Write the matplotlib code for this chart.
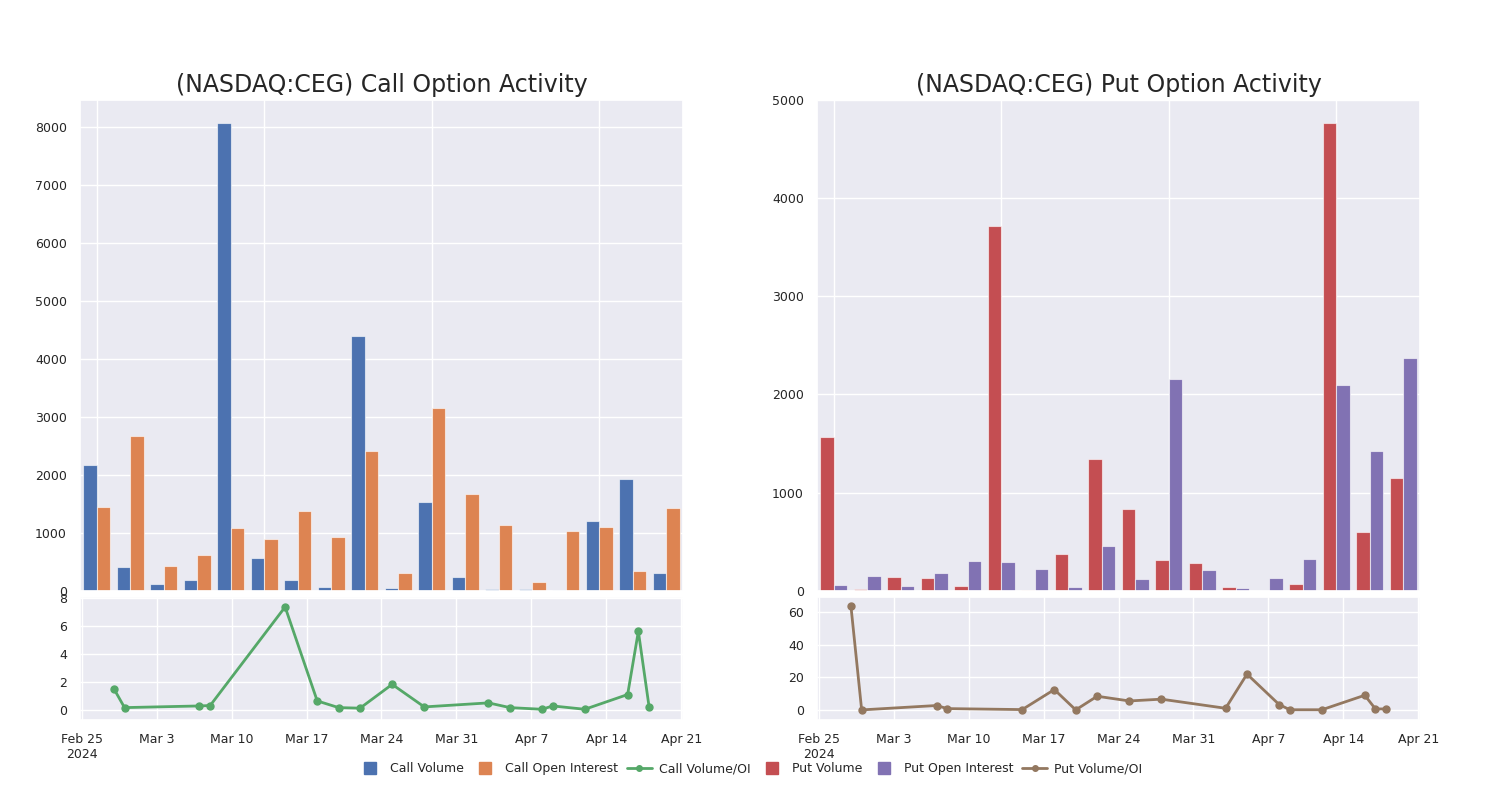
import matplotlib
matplotlib.use("Agg")
import matplotlib.pyplot as plt
import matplotlib.ticker as mticker
import seaborn as sns
import numpy as np
import pandas as pd
from matplotlib.lines import Line2D

# trading days shown in the chart
dates = pd.to_datetime([
    "2024-02-28", "2024-02-29", "2024-03-07", "2024-03-08", "2024-03-15",
    "2024-03-18", "2024-03-20", "2024-03-22", "2024-03-25", "2024-03-28",
    "2024-04-03", "2024-04-05", "2024-04-08", "2024-04-09", "2024-04-12",
    "2024-04-16", "2024-04-17", "2024-04-18",
])

call_volume = [2172, 415, 116, 180, 8059, 565, 180, 70, 4389, 52,
               1533, 231, 24, 35, 12, 1199, 1919, 306]
call_oi = [1441, 2668, 432, 622, 1078, 893, 1382, 933, 2409, 311,
           3152, 1677, 1141, 156, 1032, 1106, 335, 1424]
call_ratio = [1.50, 0.14, 0.26, 0.29, 7.37, 0.62, 0.14, 0.10, 1.81, 0.19,
              0.48, 0.14, 0.02, 0.26, 0.02, 1.08, 5.62, 0.21]

put_volume = [1570, 14, 143, 126, 51, 3721, 7, 371, 1345, 834,
              310, 282, 41, 3, 68, 4762, 596, 1151]
put_oi = [58, 150, 51, 184, 306, 293, 225, 34, 453, 123,
          2158, 211, 31, 133, 327, 2097, 1427, 2369]
put_ratio = [63.7, 0.0, 2.7, 0.8, 0.2, 12.5, 0.0, 8.4, 5.5, 6.6,
             1.0, 22.0, 3.3, 0.1, 0.1, 9.0, 0.6, 0.6]

tick_dates = pd.date_range("2024-02-25", "2024-04-21", freq="7D")
tick_labels = ["Feb 25\n2024", "Mar 3", "Mar 10", "Mar 17", "Mar 24",
               "Mar 31", "Apr 7", "Apr 14", "Apr 21"]

sns.set_theme(style="darkgrid", palette="deep")
plt.rcParams['font.family'] = ['DejaVu Sans']
pal = sns.color_palette("deep")
c_blue, c_orange, c_green, c_red, c_purple, c_brown = pal[0], pal[1], pal[2], pal[3], pal[4], pal[5]

fig = plt.figure(figsize=(15, 8), dpi=100)

panels = [
    (0.0533, "Call", call_volume, call_oi, call_ratio, c_blue, c_orange, c_green, (-0.75, 8.1), 2),
    (0.5447, "Put", put_volume, put_oi, put_ratio, c_red, c_purple, c_brown, (-6.2, 69.5), 20),
]

x = np.arange(len(dates))
w = 0.4
for left, kind, vol, oi, ratio, cv, co, cr, rlim, step in panels:
    ax = fig.add_axes([left, 0.2615, 0.402, 0.6135])
    ax.bar(x - w / 2, vol, width=w, color=cv, edgecolor=(1, 1, 1, 0.6), linewidth=0.8)
    ax.bar(x + w / 2, oi, width=w, color=co, edgecolor=(1, 1, 1, 0.6), linewidth=0.8)
    ax.set_xlim(-0.5, len(dates) - 0.5)
    ax.set_xticks([0, 5, 10, 15])
    ax.tick_params(axis='x', labelbottom=False)
    ax.tick_params(axis='y', labelsize=9)
    ax.set_title(f"(NASDAQ:CEG) {kind} Option Activity", fontsize=17)

    ax2 = fig.add_axes([left, 0.1, 0.402, 0.154])
    ax2.plot(dates, ratio, color=cr, marker='o', markersize=5, linewidth=2)
    ax2.set_xlim(pd.Timestamp("2024-02-24 20:00"), pd.Timestamp("2024-04-21 04:00"))
    ax2.set_ylim(*rlim)
    ax2.yaxis.set_major_locator(mticker.MultipleLocator(step))
    ax2.set_xticks(tick_dates)
    ax2.set_xticklabels(tick_labels)
    ax2.tick_params(labelsize=9)

handles = [
    Line2D([], [], color=c_blue, marker='s', linestyle='none', markersize=9, label="Call Volume"),
    Line2D([], [], color=c_orange, marker='s', linestyle='none', markersize=9, label="Call Open Interest"),
    Line2D([], [], color=c_green, marker='o', markersize=4, linewidth=2, label="Call Volume/OI"),
    Line2D([], [], color=c_red, marker='s', linestyle='none', markersize=9, label="Put Volume"),
    Line2D([], [], color=c_purple, marker='s', linestyle='none', markersize=9, label="Put Open Interest"),
    Line2D([], [], color=c_brown, marker='o', markersize=4, linewidth=2, label="Put Volume/OI"),
]
fig.legend(handles=handles, loc='lower center', bbox_to_anchor=(0.5, 0.017), ncol=6,
           frameon=False, fontsize=9, handlelength=2.0, handletextpad=0.6, columnspacing=0.7)

fig.savefig("out.png", dpi=100)
